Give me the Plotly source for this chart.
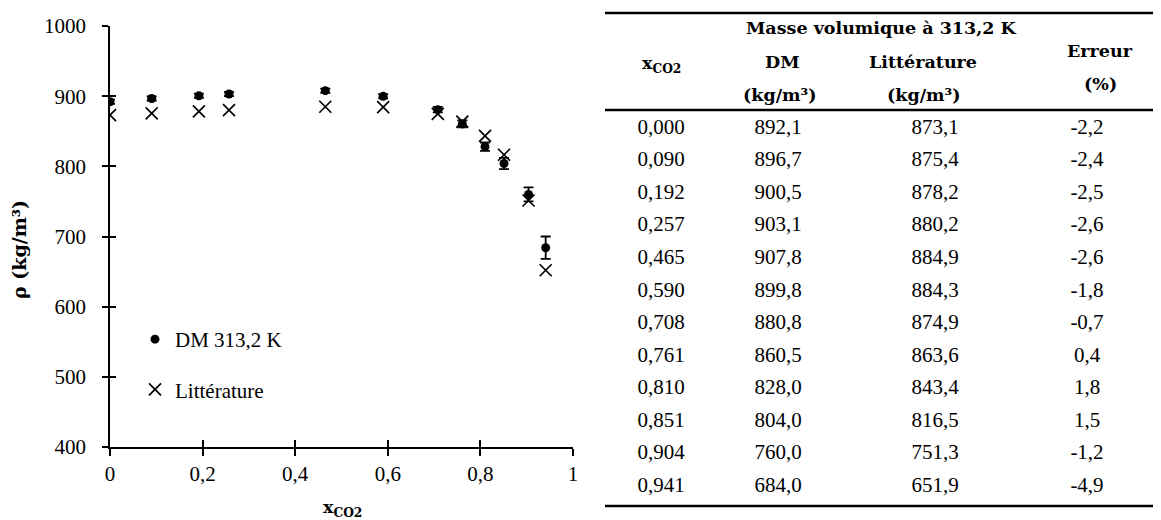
import plotly.graph_objects as go

# ---------------- data ----------------
x_co2 = [0.000, 0.090, 0.192, 0.257, 0.465, 0.590, 0.708, 0.761, 0.810, 0.851, 0.904, 0.941]
rho_dm = [892.1, 896.7, 900.5, 903.1, 907.8, 899.8, 880.8, 860.5, 828.0, 804.0, 760.0, 684.0]
rho_lit = [873.1, 875.4, 878.2, 880.2, 884.9, 884.3, 874.9, 863.6, 843.4, 816.5, 751.3, 651.9]
err_pct = [-2.2, -2.4, -2.5, -2.6, -2.6, -1.8, -0.7, 0.4, 1.8, 1.5, -1.2, -4.9]
dm_err = [3, 3, 3, 3, 3, 3, 4, 5, 6, 8, 10, 16]

x_tickvals = [0, 0.2, 0.4, 0.6, 0.8, 1.0]
x_ticktext = ["0", "0,2", "0,4", "0,6", "0,8", "1"]
y_tickvals = [400, 500, 600, 700, 800, 900, 1000]
y_ticktext = ["400", "500", "600", "700", "800", "900", "1000"]

legend_dm = "DM 313,2 K"
legend_lit = "Littérature"
table_title = "Masse volumique à 313,2 K"
header_x = "x<sub>CO2</sub>"
header_dm = ["DM", "(kg/m³)"]
header_lit = ["Littérature", "(kg/m³)"]
header_err = ["Erreur", "(%)"]

# ---------------- style ----------------
W, H = 1161, 520
OFF = 8  # page body margin offset
FONT = "Liberation Serif"
BFONT = "DejaVu Serif"
FS = 21
BFS = 17.5


def px(x):
    return (x - OFF) / W


def py(y):
    return 1 - (y - OFF) / H


def fmt(v, d):
    return f"{v:.{d}f}".replace(".", ",")


fig = go.Figure()

fig.add_trace(go.Scatter(
    x=x_co2, y=rho_dm, mode="markers", name=legend_dm,
    marker=dict(symbol="circle", size=9, color="black"),
    error_y=dict(type="data", array=dm_err, visible=True, color="black",
                 thickness=1.8, width=5),
    legendgroup="a",
))
fig.add_trace(go.Scatter(
    x=x_co2, y=rho_lit, mode="markers", name=legend_lit,
    marker=dict(symbol="x-thin", size=12, color="black",
                line=dict(color="black", width=1.7)),
    legendgroup="b",
))
# dummy trace for the inside-tick overlay axes
fig.add_trace(go.Scatter(x=[], y=[], xaxis="x2", yaxis="y2", showlegend=False,
                         hoverinfo="skip"))

# ---------------- table (hidden axes) ----------------
col_x = [661, 778, 935, 1087]
rows = list(range(len(x_co2)))
cols_text = [
    [fmt(v, 3) for v in x_co2],
    [fmt(v, 1) for v in rho_dm],
    [fmt(v, 1) for v in rho_lit],
    [fmt(v, 1) for v in err_pct],
]
for cx, texts in zip(col_x, cols_text):
    fig.add_trace(go.Scatter(
        x=[cx] * len(rows), y=rows, mode="text", text=texts,
        textposition="middle center",
        textfont=dict(family=FONT, size=FS, color="black"),
        xaxis="x3", yaxis="y3", showlegend=False, hoverinfo="skip",
    ))

row0_px, pitch = 128.5, 32.55


def ry(ypix):
    return (ypix - row0_px) / pitch


annos = []
bold = dict(family=BFONT, size=BFS, color="black")


def tab_anno(x, y, text):
    annos.append(dict(x=x, y=ry(y), xref="x3", yref="y3", text=f"<b>{text}</b>",
                      xanchor="center", yanchor="middle",
                      showarrow=False, font=bold))


tab_anno(881, 28, table_title)
tab_anno(661, 64, header_x)
tab_anno(782, 62, header_dm[0])
tab_anno(780, 95, header_dm[1])
tab_anno(923, 62, header_lit[0])
tab_anno(924, 95, header_lit[1])
tab_anno(1100, 51, header_err[0])
tab_anno(1100, 84, header_err[1])

# axis titles
annos.append(dict(x=px(19), y=py(250), xref="paper", yref="paper", textangle=-90,
                  xanchor="center", yanchor="middle",
                  text="<b>ρ (kg/m³)</b>", showarrow=False,
                  font=dict(family=BFONT, size=19, color="black")))
annos.append(dict(x=px(342), y=py(508), xref="paper", yref="paper",
                  xanchor="center", yanchor="middle",
                  text="<b>x<sub>CO2</sub></b>", showarrow=False, font=bold))

shapes = []
for yy in (13, 110, 506):
    shapes.append(dict(type="line", xref="x3", yref="y3", x0=605, x1=1157,
                       y0=ry(yy), y1=ry(yy), line=dict(color="black", width=2.5)))

xdom = [px(110), px(573)]
ydom = [py(447), py(26)]
axis_common = dict(showgrid=False, zeroline=False, color="black", automargin=False)

fig.update_layout(
    width=W, height=H,
    margin=dict(l=0, r=0, t=0, b=0, pad=0, autoexpand=False),
    paper_bgcolor="white", plot_bgcolor="rgba(0,0,0,0)",
    font=dict(family=FONT, size=FS, color="black"),
    xaxis=dict(domain=xdom, range=[0, 1], tickvals=x_tickvals, ticktext=x_ticktext,
               ticks="outside", ticklen=7, tickwidth=1.5, tickcolor="black",
               showline=True, linecolor="black", linewidth=1.5,
               anchor="y", ticklabelstandoff=0, **axis_common),
    yaxis=dict(domain=ydom, range=[400, 1000], tickvals=y_tickvals, ticktext=y_ticktext,
               ticks="outside", ticklen=6, tickwidth=1.5, tickcolor="black",
               showline=True, linecolor="black", linewidth=1.5,
               anchor="x", ticklabelstandoff=12, **axis_common),
    xaxis2=dict(domain=xdom, range=[0, 1], tickvals=x_tickvals, overlaying="x",
                anchor="y2", ticks="inside", ticklen=7, tickwidth=1.5, tickcolor="black",
                showticklabels=False, showline=False, **axis_common),
    yaxis2=dict(domain=ydom, range=[400, 1000], tickvals=y_tickvals, overlaying="y",
                anchor="x2", ticks="inside", ticklen=6, tickwidth=1.5, tickcolor="black",
                showticklabels=False, showline=False, **axis_common),
    xaxis3=dict(domain=[px(600), 1], range=[600, W + OFF], visible=False, anchor="y3"),
    yaxis3=dict(domain=[0, 1], range=[ry(H + OFF), ry(OFF)], visible=False, anchor="x3"),
    legend=dict(x=px(135), y=py(319), xanchor="left", yanchor="top",
                bgcolor="rgba(0,0,0,0)", font=dict(family=FONT, size=FS),
                tracegroupgap=20, itemwidth=30),
    annotations=annos,
    shapes=shapes,
    showlegend=True,
)

fig.write_html("out.html")
